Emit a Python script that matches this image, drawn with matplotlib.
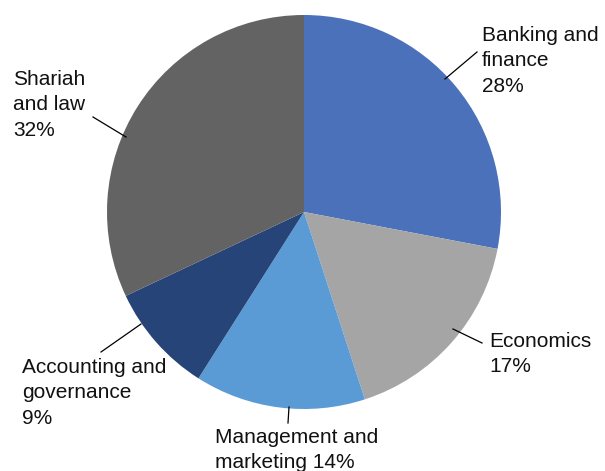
import matplotlib
matplotlib.use("Agg")
import matplotlib.pyplot as plt

categories = ["Banking and\nfinance", "Economics", "Management and\nmarketing", "Accounting and\ngovernance", "Shariah\nand law"]
values = [28, 17, 14, 9, 32]
colors = ["#4A71B9", "#A5A5A5", "#5B9BD5", "#264478", "#636363"]

W, H = 605, 471
fig = plt.figure(figsize=(W / 100, H / 100), dpi=100)
ax = fig.add_axes([0, 0, 1, 1])
ax.set_xlim(0, W)
ax.set_ylim(0, H)
ax.set_aspect("equal")
ax.axis("off")

cx, cy, r = 304, H - 212, 197
ax.pie(values, colors=colors, startangle=90, counterclock=False,
       center=(cx, cy), radius=r, frame=True, wedgeprops=dict(linewidth=0))
ax.set_xlim(0, W)
ax.set_ylim(0, H)
ax.axis("off")

# label layout (pixel coordinates, top-left origin)
label_pos = [(482, 61), (489, 354), (215, 450), (22, 393), (13, 105)]
leaders = [((445, 79), (477, 52)), ((453, 329), (482, 343)), ((289, 407), (288, 423)),
           ((141, 324), (101, 352)), ((126, 137), (93, 117))]

for i, (cat, v) in enumerate(zip(categories, values)):
    if i == 2:
        txt = "Management and\nmarketing %d%%" % v
    else:
        txt = "%s\n%d%%" % (cat, v)
    x, y = label_pos[i]
    ax.text(x, H - y, txt, ha="left", va="center", fontsize=15,
            family=["Liberation Sans", "DejaVu Sans"], linespacing=1.42, color="#111111")
    (x0, y0), (x1, y1) = leaders[i]
    ax.plot([x0, x1], [H - y0, H - y1], color="black", lw=0.9)

fig.savefig("out.png", dpi=100)
